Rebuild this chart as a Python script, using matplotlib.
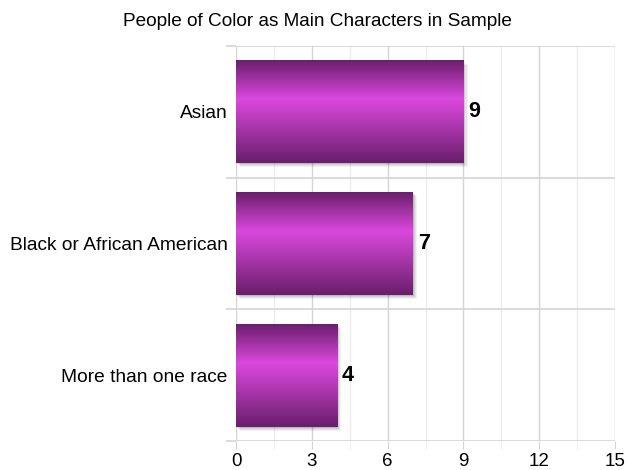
import matplotlib
matplotlib.use("Agg")
import matplotlib.pyplot as plt
import numpy as np
from matplotlib.colors import LinearSegmentedColormap
from matplotlib.patches import Rectangle
import matplotlib.transforms as mtransforms

categories = ["Asian", "Black or African American", "More than one race"]
values = [9, 7, 4]
xticks = [0, 3, 6, 9, 12, 15]
title = "People of Color as Main Characters in Sample"

plt.rcParams['font.family'] = ['Liberation Sans', 'DejaVu Sans']

fig = plt.figure(figsize=(6.26, 4.70), dpi=100)
ax = fig.add_axes([236/626, 1-441/470, (615-236)/626, (441-46)/470])

ax.set_xlim(0, 15)
ax.set_ylim(2.5, -0.5)

# grid
major = "#d4d4d4"
minor = "#ececec"
for x in np.arange(0, 15.01, 1.5):
    is_major = abs(x/3 - round(x/3)) < 1e-6
    ax.axvline(x, color=major if is_major else minor, lw=1.0, zorder=0)
for y in [-0.5, 0.5, 1.5, 2.5]:
    ax.axhline(y, color=major, lw=1.2, zorder=0)

for s in ax.spines.values():
    s.set_visible(False)

ax.set_xticks(xticks)
ax.set_xticklabels([str(t) for t in xticks], fontsize=13.5)
ax.set_xticks(np.arange(0, 15.01, 1.5), minor=True)
ax.tick_params(axis='x', which='both', length=6, color=minor, pad=3, labelcolor='black')
ax.tick_params(axis='x', which='major', color=major)

ax.set_yticks(range(len(categories)))
ax.set_yticklabels(categories, fontsize=13.8)
ax.tick_params(axis='y', which='major', length=0, pad=6)
ax.set_yticks([-0.5, 0.5, 1.5, 2.5], minor=True)
ax.tick_params(axis='y', which='minor', length=7, color=major, width=1.2)

cmap = LinearSegmentedColormap.from_list(
    "purp", [(0.0, "#6a1f6c"), (0.38, "#db48de"), (1.0, "#691e6b")])
grad = np.linspace(0, 1, 256).reshape(-1, 1)

h = 0.78
for i, v in enumerate(values):
    # shadow
    for k, a in enumerate([0.05, 0.06, 0.08, 0.10]):
        off = 4 - k
        tr = mtransforms.offset_copy(ax.transData, fig=fig, x=off*0.75, y=-off*0.75, units='points')
        ax.add_patch(Rectangle((0, i - h/2), v, h, facecolor='black', alpha=a,
                               edgecolor='none', transform=tr, zorder=1))
    ax.imshow(grad, cmap=cmap, aspect='auto', extent=(0, v, i + h/2, i - h/2),
              zorder=2, interpolation='bilinear')
    ax.text(v + 0.2, i, str(v), va='center', ha='left', fontsize=15.5,
            fontweight='bold', zorder=3)

ax.set_xlim(0, 15)
ax.set_ylim(2.5, -0.5)

fig.text(317/626, 1-22/470, title, ha='center', va='center', fontsize=13.7)

fig.savefig("out.png", dpi=100)
